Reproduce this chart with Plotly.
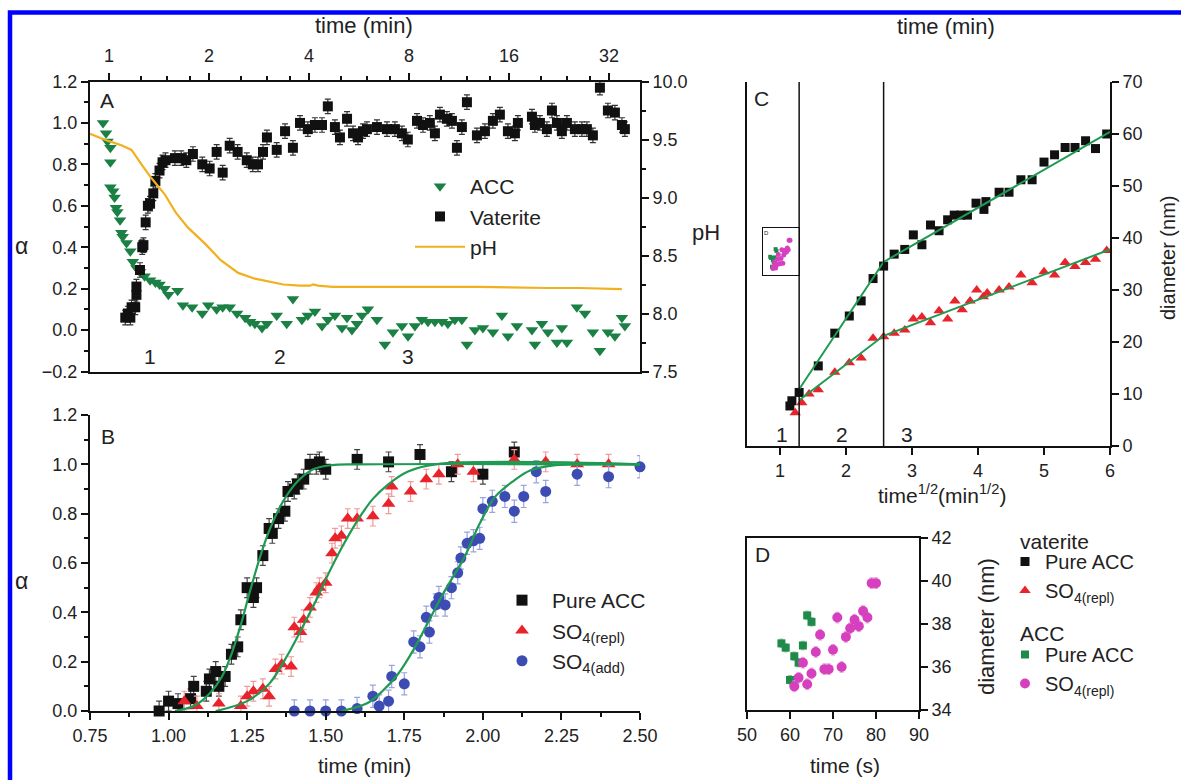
import numpy as np
import plotly.graph_objects as go

W, H = 1181, 780
def px(x): return x / W
def py(y): return 1 - y / H

# ---------------- Panel A data ----------------
acc_t = [0.96, 0.98, 0.99, 1.01, 1.01, 1.01, 1.03, 1.04, 1.05, 1.06,
         1.08, 1.09, 1.10, 1.13, 1.16, 1.18, 1.21, 1.24, 1.28, 1.33,
         1.38, 1.42, 1.47, 1.51, 1.61, 1.67, 1.78, 1.91, 1.99, 2.11,
         2.20, 2.31, 2.43, 2.57, 2.66, 2.75, 2.89, 2.99, 3.20, 3.43,
         3.58, 3.81, 3.97, 4.17, 4.38, 4.56, 4.79, 5.03, 5.21, 5.39,
         5.58, 5.78, 6.02, 6.41, 6.77, 7.16, 7.62, 7.95, 8.34, 8.75,
         9.13, 9.58, 10.06, 10.48, 11.00, 11.55, 11.96, 12.64, 13.36, 14.32,
         15.24, 15.89, 16.91, 18.77, 19.16, 20.11, 20.97, 22.32, 23.10, 23.92,
         25.63, 27.10, 28.64, 30.06, 31.78, 33.36, 35.02, 35.75]
acc_a = [1.00, 0.95, 0.91, 0.88, 0.81, 0.69, 0.67, 0.64, 0.59, 0.57,
         0.53, 0.47, 0.45, 0.42, 0.38, 0.33, 0.30, 0.28, 0.26, 0.24,
         0.23, 0.22, 0.20, 0.17, 0.19, 0.12, 0.11, 0.08, 0.12, 0.10,
         0.11, 0.11, 0.08, 0.06, 0.04, 0.03, 0.01, 0.03, 0.07, 0.03,
         0.15, 0.05, 0.07, 0.09, 0.02, 0.05, 0.07, 0.01, 0.06, 0.00,
         0.03, 0.07, 0.10, 0.05, -0.07, -0.01, 0.02, -0.03, 0.02, 0.05,
         0.04, 0.04, 0.04, 0.03, 0.05, 0.05, -0.07, 0.00, 0.01, -0.01,
         0.07, -0.03, 0.02, 0.00, -0.07, 0.03, -0.01, -0.06, 0.01, -0.06,
         0.11, 0.08, -0.01, -0.10, -0.01, -0.03, 0.06, 0.02]

vat_t = [1.12, 1.14, 1.16, 1.17, 1.20, 1.21, 1.21, 1.24, 1.26, 1.27,
         1.29, 1.31, 1.33, 1.36, 1.38, 1.42, 1.45, 1.48, 1.58, 1.65,
         1.71, 1.79, 1.91, 2.01, 2.11, 2.20, 2.31, 2.44, 2.60, 2.71,
         2.81, 2.91, 2.99, 3.20, 3.39, 3.58, 3.76, 3.97, 4.17, 4.38,
         4.56, 4.79, 4.96, 5.21, 5.43, 5.62, 5.82, 5.98, 6.41, 6.87,
         7.26, 7.62, 7.94, 8.46, 8.82, 9.25, 9.58, 9.92, 10.41, 10.78,
         11.16, 11.55, 11.96, 12.82, 13.55, 14.32, 15.03, 15.89, 16.68, 17.03,
         18.77, 19.16, 19.84, 20.82, 21.56, 22.32, 23.10, 23.92, 25.28, 26.54,
         27.47, 28.64, 30.07, 31.78, 33.36, 35.02, 35.75]
vat_a = [0.06, 0.08, 0.06, 0.11, 0.11, 0.17, 0.21, 0.29, 0.40, 0.41,
         0.52, 0.60, 0.61, 0.66, 0.72, 0.77, 0.81, 0.82, 0.83, 0.83,
         0.82, 0.85, 0.80, 0.78, 0.86, 0.76, 0.89, 0.86, 0.82, 0.80,
         0.80, 0.86, 0.93, 0.87, 0.96, 0.88, 1.00, 0.97, 0.99, 0.99,
         1.08, 0.98, 0.93, 1.02, 0.95, 0.93, 0.96, 0.97, 0.98, 0.97,
         0.97, 0.95, 0.92, 1.01, 0.99, 1.00, 0.95, 1.04, 1.02, 1.01,
         0.88, 0.98, 1.10, 0.94, 0.96, 1.01, 1.04, 0.96, 0.95, 1.00,
         1.03, 0.99, 1.00, 0.97, 1.06, 1.00, 0.96, 1.00, 0.97, 0.97,
         0.97, 0.94, 1.17, 1.06, 1.05, 0.99, 0.97]

ph_t = [0.877, 0.99, 1.09, 1.17, 1.25, 1.34, 1.47, 1.59, 1.73, 1.95, 2.17, 2.45,
        2.75, 2.99, 3.35, 3.76, 4.03, 4.12, 4.26, 4.72, 5.98, 13.07, 20.82, 26.1, 35.0]
ph_v = [9.55, 9.49, 9.45, 9.41, 9.29, 9.17, 9.03, 8.87, 8.74, 8.60, 8.46, 8.35,
        8.30, 8.28, 8.25, 8.24, 8.24, 8.25, 8.24, 8.23, 8.23, 8.23, 8.22, 8.22, 8.21]

regions_A_min = [1.60, 6.0]
topA_ticks = [1, 2, 4, 8, 16, 32]
topA_minor = [1.25, 1.5, 1.75, 2.5, 3, 3.5, 5, 6, 7, 10, 12, 14, 20, 24, 28]

# ---------------- Panel B data ----------------
B_pure_t = [0.97, 1.00, 1.03, 1.07, 1.08, 1.12, 1.13, 1.15, 1.16, 1.18,
            1.20, 1.22, 1.23, 1.25, 1.27, 1.28, 1.30, 1.32, 1.33, 1.35,
            1.37, 1.38, 1.40, 1.41, 1.43, 1.45, 1.47, 1.48, 1.50, 1.60,
            1.70, 1.80, 1.90, 2.00, 2.10]
B_pure_a = [0.00, 0.04, 0.03, 0.05, 0.10, 0.08, 0.13, 0.16, 0.10, 0.14,
            0.23, 0.26, 0.37, 0.50, 0.46, 0.50, 0.63, 0.74, 0.72, 0.78,
            0.81, 0.89, 0.90, 0.92, 0.94, 1.00, 1.00, 1.01, 0.98, 1.02,
            1.01, 1.04, 0.97, 0.96, 1.05]
B_repl_t = [1.05, 1.09, 1.16, 1.23, 1.25, 1.27, 1.30, 1.32, 1.34, 1.36,
            1.39, 1.40, 1.42, 1.43, 1.45, 1.47, 1.48, 1.50, 1.52, 1.53,
            1.55, 1.57, 1.60, 1.65, 1.70, 1.71, 1.77, 1.82, 1.86, 1.92,
            1.97, 2.10, 2.20, 2.30, 2.40]
B_repl_a = [0.04, 0.02, 0.03, 0.02, 0.06, 0.08, 0.09, 0.06, 0.17, 0.19,
            0.18, 0.34, 0.32, 0.37, 0.42, 0.48, 0.50, 0.52, 0.64, 0.70,
            0.71, 0.78, 0.78, 0.79, 0.84, 0.91, 0.89, 0.94, 0.96, 1.00,
            0.97, 1.02, 1.01, 1.00, 1.00]
B_add_t = [1.40, 1.45, 1.50, 1.55, 1.60, 1.65, 1.67, 1.70, 1.71, 1.75,
           1.78, 1.80, 1.82, 1.83, 1.85, 1.86, 1.88, 1.90, 1.92, 1.93,
           1.95, 1.97, 1.99, 2.00, 2.03, 2.07, 2.10, 2.13, 2.17, 2.20,
           2.30, 2.40, 2.50]
B_add_a = [0.00, 0.00, 0.00, 0.00, 0.01, 0.06, 0.02, 0.04, 0.14, 0.11,
           0.28, 0.26, 0.38, 0.32, 0.43, 0.46, 0.43, 0.50, 0.56, 0.62,
           0.68, 0.69, 0.70, 0.82, 0.85, 0.87, 0.81, 0.87, 0.97, 0.89,
           0.96, 0.95, 0.99]

fit1_t = [1.02, 1.08, 1.13, 1.17, 1.20, 1.23, 1.26, 1.29, 1.32, 1.36, 1.41, 1.46, 1.52, 1.60, 2.50]
fit1_a = [0.00, 0.02, 0.07, 0.14, 0.23, 0.35, 0.49, 0.62, 0.73, 0.84, 0.93, 0.98, 0.997, 1.00, 1.00]
fit2_t = [1.15, 1.25, 1.32, 1.38, 1.43, 1.47, 1.51, 1.55, 1.60, 1.65, 1.70, 1.76, 1.85, 2.50]
fit2_a = [0.00, 0.04, 0.11, 0.23, 0.35, 0.45, 0.56, 0.66, 0.77, 0.86, 0.92, 0.97, 1.00, 1.00]
fit3_t = [1.55, 1.63, 1.68, 1.73, 1.78, 1.83, 1.88, 1.94, 1.99, 2.04, 2.10, 2.15, 2.22, 2.30, 2.50]
fit3_a = [0.00, 0.03, 0.08, 0.15, 0.25, 0.37, 0.49, 0.62, 0.76, 0.87, 0.935, 0.975, 0.995, 1.00, 1.00]

# ---------------- Panel C data ----------------
C_pure_s = [1.15, 1.18, 1.29, 1.58, 1.83, 2.05, 2.23, 2.41, 2.57, 2.73,
            2.89, 3.02, 3.15, 3.28, 3.41, 3.54, 3.64, 3.74, 3.84, 3.97,
            4.09, 4.12, 4.32, 4.47, 4.65, 4.82, 5.00, 5.16, 5.32, 5.47,
            5.63, 5.78, 5.95]
C_pure_d = [7.7, 8.7, 10.3, 15.4, 21.7, 25.0, 27.9, 32.2, 34.6, 36.9,
            37.8, 40.6, 38.7, 42.5, 41.4, 43.5, 44.4, 44.4, 44.4, 46.7,
            45.5, 47.0, 48.8, 48.8, 51.2, 51.2, 54.6, 56.0, 57.4, 57.4,
            58.7, 57.2, 60.0]
C_repl_s = [1.23, 1.33, 1.44, 1.58, 1.83, 2.05, 2.23, 2.41, 2.57, 2.73,
            2.89, 3.02, 3.15, 3.28, 3.41, 3.54, 3.65, 3.76, 3.88, 3.98,
            4.08, 4.14, 4.32, 4.47, 4.65, 4.82, 5.00, 5.16, 5.32, 5.47,
            5.63, 5.78, 5.95]
C_repl_d = [6.4, 8.3, 10.0, 10.8, 14.2, 16.0, 16.9, 20.7, 21.0, 21.7,
            22.3, 24.4, 24.8, 23.7, 26.0, 24.4, 27.9, 26.2, 27.9, 30.0,
            28.7, 29.4, 30.0, 30.6, 32.9, 31.4, 33.5, 32.9, 35.3, 34.5,
            35.3, 35.9, 37.6]
C_fit_s = [1.29, 2.57, 6.0]
C_fit_pure_d = [10.9, 35.4, 60.4]
C_fit_repl_d = [8.8, 21.2, 37.8]
regions_C = [1.29, 2.57]
topC_min = [1, 2, 4, 8, 16, 32]

# ---------------- Panel D data ----------------
D_pure_T = [58, 59, 60, 61, 62, 63, 64, 65]
D_pure_d = [37.1, 36.9, 35.4, 36.5, 36.2, 37.0, 38.4, 38.1]
D_repl_T = [61, 62, 63, 64, 65, 66, 67, 68, 69, 70, 71, 72, 73, 74, 75, 76, 77, 78, 79, 80]
D_repl_d = [35.1, 35.5, 36.2, 35.2, 35.7, 36.7, 37.5, 35.9, 35.9, 36.8,
            38.3, 36.0, 37.4, 37.8, 38.2, 37.9, 38.6, 38.3, 39.9, 39.9]

# ---------------- styles ----------------
FONT = "Liberation Sans, Arial, sans-serif"
TXT = "#222222"
BLACK = "#111111"
GREEN = "#1b8044"
DGREEN = "#1f8a4c"
FITG = "#1f9a52"
ORANGE = "#f2b01e"
RED = "#e8232b"
BLUE = "#3c4cb2"
MAG = "#d640be"

fig = go.Figure()

# Panel A
fig.add_trace(go.Scatter(x=acc_t, y=acc_a, xaxis="x", yaxis="y", mode="markers", name="ACC",
                         marker=dict(symbol="triangle-down", size=11, color=GREEN),
                         legend="legend", cliponaxis=False))
fig.add_trace(go.Scatter(x=vat_t, y=vat_a, xaxis="x", yaxis="y", mode="markers", name="Vaterite",
                         marker=dict(symbol="square", size=10, color=BLACK),
                         error_y=dict(type="constant", value=0.035, color="#333", thickness=1.2, width=3),
                         legend="legend", cliponaxis=False))
fig.add_trace(go.Scatter(x=ph_t, y=ph_v, xaxis="x", yaxis="y2", mode="lines", name="pH",
                         line=dict(color=ORANGE, width=2.2), legend="legend"))

# Panel B
fig.add_trace(go.Scatter(x=B_pure_t, y=B_pure_a, xaxis="x2", yaxis="y3", mode="markers", name="Pure ACC",
                         marker=dict(symbol="square", size=11, color=BLACK),
                         error_y=dict(type="constant", value=0.04, color="#444", thickness=1.2, width=3),
                         legend="legend2", cliponaxis=False))
fig.add_trace(go.Scatter(x=B_repl_t, y=B_repl_a, xaxis="x2", yaxis="y3", mode="markers",
                         name="SO<sub>4(repl)</sub>",
                         marker=dict(symbol="triangle-up", size=12, color=RED),
                         error_y=dict(type="constant", value=0.04, color="#f09a9a", thickness=1.2, width=3),
                         legend="legend2", cliponaxis=False))
fig.add_trace(go.Scatter(x=B_add_t, y=B_add_a, xaxis="x2", yaxis="y3", mode="markers",
                         name="SO<sub>4(add)</sub>",
                         marker=dict(symbol="circle", size=11, color=BLUE),
                         error_y=dict(type="constant", value=0.045, color="#9aa3dd", thickness=1.2, width=3),
                         legend="legend2", cliponaxis=False))
for ft, fa in [(fit1_t, fit1_a), (fit2_t, fit2_a), (fit3_t, fit3_a)]:
    fig.add_trace(go.Scatter(x=ft, y=fa, xaxis="x2", yaxis="y3", mode="lines",
                             line=dict(color=FITG, width=2.2, shape="spline", smoothing=1.0),
                             showlegend=False, cliponaxis=False))

# Panel C (vaterite)
fig.add_trace(go.Scatter(x=C_pure_s, y=C_pure_d, xaxis="x3", yaxis="y4", mode="markers", name="Pure ACC",
                         marker=dict(symbol="square", size=9, color=BLACK),
                         legend="legend3", cliponaxis=False))
fig.add_trace(go.Scatter(x=C_repl_s, y=C_repl_d, xaxis="x3", yaxis="y4", mode="markers",
                         name="SO<sub>4(repl)</sub>",
                         marker=dict(symbol="triangle-up", size=10, color=RED),
                         legend="legend3", cliponaxis=False))
fig.add_trace(go.Scatter(x=C_fit_s, y=C_fit_pure_d, xaxis="x3", yaxis="y4", mode="lines",
                         line=dict(color=FITG, width=2), showlegend=False))
fig.add_trace(go.Scatter(x=C_fit_s, y=C_fit_repl_d, xaxis="x3", yaxis="y4", mode="lines",
                         line=dict(color=FITG, width=2), showlegend=False))

# Panel D (ACC)
fig.add_trace(go.Scatter(x=D_pure_T, y=D_pure_d, xaxis="x5", yaxis="y5", mode="markers", name="Pure ACC",
                         marker=dict(symbol="square", size=8, color=DGREEN),
                         error_y=dict(type="constant", value=0.2, color="#8fcf9f", thickness=1, width=2),
                         legend="legend4"))
fig.add_trace(go.Scatter(x=D_repl_T, y=D_repl_d, xaxis="x5", yaxis="y5", mode="markers",
                         name="SO<sub>4(repl)</sub>",
                         marker=dict(symbol="circle", size=10, color=MAG),
                         error_y=dict(type="constant", value=0.25, color="#eaa0de", thickness=1, width=2),
                         legend="legend4"))

# Inset in C (miniature of D)
fig.add_trace(go.Scatter(x=D_pure_T, y=D_pure_d, xaxis="x6", yaxis="y6", mode="markers",
                         marker=dict(symbol="square", size=4, color=DGREEN), showlegend=False))
fig.add_trace(go.Scatter(x=D_repl_T, y=D_repl_d, xaxis="x6", yaxis="y6", mode="markers",
                         marker=dict(symbol="circle", size=5, color=MAG), showlegend=False))

# ---------------- axes ----------------
base = dict(showline=True, linecolor=BLACK, linewidth=2, ticks="outside", tickcolor=BLACK,
            tickwidth=2, ticklen=7, showgrid=False, zeroline=False, automargin=False,
            tickfont=dict(size=18, color=TXT, family=FONT))
minor_style = dict(ticks="outside", ticklen=4, tickwidth=1.5, tickcolor=BLACK, showgrid=False)

dA_x = [px(90), px(640)]
dA_y = [py(371.5), py(81.5)]
dB_y = [py(711), py(415)]
dC_x = [px(747), px(1110)]
dC_y = [py(446), py(82)]
dD_x = [px(747), px(919)]
dD_y = [py(710), py(538)]
dI_x = [px(763), px(799)]
dI_y = [py(275), py(228)]

fig.update_layout(
    xaxis=dict(base, type="log", domain=dA_x, anchor="y", side="top", mirror=True,
               range=[np.log10(0.877), np.log10(39.7)], tickmode="array", tickvals=topA_ticks,
               ticktext=[str(v) for v in topA_ticks], ticklabelstandoff=3,
               minor=dict(minor_style, tickmode="array", tickvals=topA_minor)),
    yaxis=dict(base, domain=dA_y, anchor="x", range=[-0.2, 1.2], tick0=0, dtick=0.2, tickformat=".1f",
               minor=dict(minor_style, dtick=0.1, tick0=0)),
    yaxis2=dict(base, domain=dA_y, anchor="x", overlaying="y", side="right", range=[7.5, 10.0],
                tick0=7.5, dtick=0.5, tickformat=".1f", minor=dict(minor_style, dtick=0.25, tick0=7.5)),
    xaxis2=dict(base, domain=dA_x, anchor="y3", range=[0.75, 2.5], tick0=0.75, dtick=0.25,
                tickformat=".2f", minor=dict(minor_style, dtick=0.125, tick0=0.75)),
    yaxis3=dict(base, domain=dB_y, anchor="x2", range=[0, 1.2], tick0=0, dtick=0.2, tickformat=".1f",
                minor=dict(minor_style, dtick=0.1, tick0=0)),
    xaxis3=dict(base, domain=dC_x, anchor="y4", range=[0.5, 6], tickmode="array",
                tickvals=[1, 2, 3, 4, 5, 6]),
    xaxis4=dict(base, domain=dC_x, anchor="y4", overlaying="x3", side="top", range=[0.5, 6],
                tickmode="array", tickvals=[float(np.sqrt(v)) for v in topC_min],
                ticktext=[str(v) for v in topC_min], ticklabelstandoff=3),
    yaxis4=dict(base, domain=dC_y, anchor="x3", side="right", mirror=True, range=[0, 70],
                tick0=0, dtick=10),
    xaxis5=dict(base, domain=dD_x, anchor="y5", mirror=True, range=[50, 90], tick0=50, dtick=10),
    yaxis5=dict(base, domain=dD_y, anchor="x5", side="right", mirror=True, range=[34, 42],
                tick0=34, dtick=2),
    xaxis6=dict(domain=dI_x, anchor="y6", range=[50, 90], showline=True, mirror=True, linecolor=BLACK,
                linewidth=1, showticklabels=False, ticks="", showgrid=False, zeroline=False),
    yaxis6=dict(domain=dI_y, anchor="x6", range=[34, 42], showline=True, mirror=True, linecolor=BLACK,
                linewidth=1, showticklabels=False, ticks="", showgrid=False, zeroline=False),
)

# ---------------- shapes ----------------
shapes = []
for t in regions_A_min:
    shapes.append(dict(type="line", xref="x", yref="y domain", x0=float(np.log10(t)), x1=float(np.log10(t)),
                       y0=0, y1=1, line=dict(color=BLACK, width=1.5)))
for s in regions_C:
    shapes.append(dict(type="line", xref="x3", yref="y4 domain", x0=s, x1=s, y0=0, y1=1,
                       line=dict(color=BLACK, width=1.5)))
shapes.append(dict(type="rect", xref="paper", yref="paper", x0=px(10), x1=1.05, y0=-0.05, y1=py(12.5),
                   line=dict(color="#0000ff", width=4.5), fillcolor="rgba(0,0,0,0)", layer="above"))

# ---------------- annotations ----------------
def ann(text, x, y, size=21, angle=0, xanchor="center"):
    return dict(text=text, x=px(x), y=py(y), xref="paper", yref="paper", showarrow=False,
                xanchor=xanchor, yanchor="middle", textangle=angle,
                font=dict(size=size, color=TXT, family=FONT))

annotations = [
    ann("time (min)", 364, 26, 22),
    ann("α", 21, 246, 23),
    ann("pH", 706, 232, 22),
    ann("A", 107, 101), ann("1", 150, 357), ann("2", 280, 357), ann("3", 408, 357),
    ann("B", 108, 436),
    ann("α", 21, 581, 23),
    ann("time (min)", 364, 765, 21),
    ann("time (min)", 946, 27, 22),
    ann("C", 761, 98),
    ann("1", 782, 434), ann("2", 842, 434), ann("3", 907, 434),
    ann("diameter (nm)", 1168, 258, 20, -90),
    ann("time<sup>1/2</sup>(min<sup>1/2</sup>)", 942, 494, 21),
    ann("D", 762, 554),
    ann("diameter (nm)", 986, 627, 22, -90),
    ann("time (s)", 845, 765, 21),
    ann("D", 766, 233, 6),
    ann("vaterite", 1018, 541, 21, xanchor="left"),
    ann("ACC", 1018, 633, 21, xanchor="left"),
]

leg_common = dict(xanchor="left", yanchor="top", bgcolor="rgba(0,0,0,0)", borderwidth=0,
                  font=dict(size=21, color=TXT, family=FONT))

fig.update_layout(
    width=W, height=H, margin=dict(l=0, r=0, t=0, b=0, autoexpand=False),
    paper_bgcolor="white", plot_bgcolor="white",
    font=dict(family=FONT, color=TXT),
    shapes=shapes, annotations=annotations,
    legend=dict(leg_common, x=px(410), y=py(166), itemwidth=50),
    legend2=dict(leg_common, x=px(492), y=py(580), itemwidth=50),
    legend3=dict(leg_common, x=px(1005), y=py(542), itemwidth=30,
                 font=dict(size=20, color=TXT, family=FONT)),
    legend4=dict(leg_common, x=px(1005), y=py(635), itemwidth=30,
                 font=dict(size=20, color=TXT, family=FONT)),
)

fig.write_html("out.html")
